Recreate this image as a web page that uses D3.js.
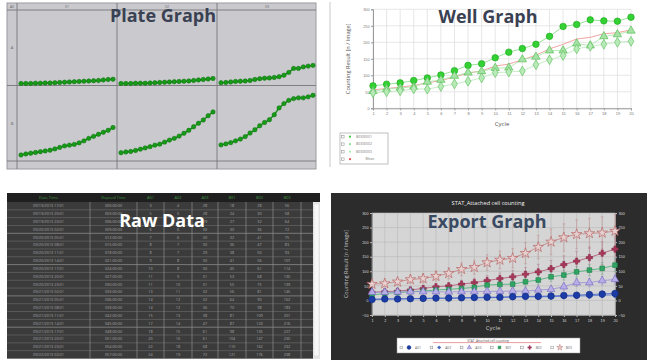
<!DOCTYPE html>
<html>
<head>
<meta charset="utf-8">
<script src="https://cdn.jsdelivr.net/npm/d3@7"></script>
<style>
  body { margin: 0; background: #fff; }
  svg { display: block; font-family: "Open Sans", "DejaVu Sans", sans-serif; }
</style>
</head>
<body>
<div id="chart"></div>
<script>
// Four-panel overview: plate graph, well graph, raw data table, export graph

const cycles = [1, 2, 3, 4, 5, 6, 7, 8, 9, 10, 11, 12, 13, 14, 15, 16, 17, 18, 19, 20]

// --- plate graph (one mini-chart per well) ---
const plateRows = ["A", "B"]
const plateCols = ["01", "02", "03"]
const plateA1 = [8, 8, 8, 9, 9, 10, 10, 11, 12, 13, 14, 15, 16, 17, 18, 19, 20, 22, 24, 25]
const plateA2 = [8, 8, 8, 9, 9, 9, 10, 11, 12, 13, 14, 15, 16, 17, 18, 20, 22, 24, 26, 28]
const plateA3 = [11, 12, 14, 16, 17, 18, 20, 24, 27, 29, 30, 32, 35, 41, 52, 68, 68, 74, 77, 80]
const plateB1 = [24, 28, 31, 34, 37, 40, 43, 48, 54, 60, 63, 66, 72, 80, 90, 98, 106, 114, 122, 133]
const plateB2 = [33, 36, 38, 42, 47, 52, 57, 63, 67, 75, 83, 90, 99, 110, 122, 136, 150, 163, 180, 195]
const plateB3 = [64, 68, 73, 80, 87, 97, 111, 124, 140, 153, 164, 184, 211, 228, 241, 248, 251, 251, 255, 261]

// --- well graph ---
const wellNames = ["B0300001", "B0300002", "B0300003", "Mean"]
const well1 = [68, 73, 77, 84, 92, 101, 114, 130, 135, 153, 170, 181, 194, 218, 248, 254, 268, 265, 264, 276]
const well2 = [52, 58, 62, 65, 80, 86, 98, 108, 112, 122, 123, 148, 156, 175, 175, 196, 190, 218, 224, 235]
const well3 = [47, 50, 53, 59, 58, 66, 74, 82, 92, 108, 110, 113, 132, 147, 160, 180, 188, 194, 200, 203]
const wellMean = [56, 60, 64, 69, 77, 84, 95, 107, 113, 128, 134, 147, 161, 180, 194, 210, 215, 226, 229, 238]
const wellTicksY = [0, 50, 100, 150, 200, 250, 300]

// --- export graph (mean +/- sd per well) ---
const wells = ["A01", "A02", "A03", "B01", "B02", "B03"]
const expA01 = [3, 5, 5, 6, 7, 8, 8, 9, 10, 11, 11, 13, 14, 14, 15, 17, 18, 20, 22, 24]
const expA02 = [4, 5, 5, 6, 6, 7, 7, 8, 8, 9, 10, 11, 12, 12, 13, 14, 15, 16, 18, 19]
const expA03 = [28, 28, 29, 30, 30, 30, 29, 30, 30, 31, 31, 32, 32, 36, 38, 47, 61, 61, 68, 72]
const expB01 = [18, 24, 27, 30, 32, 36, 38, 41, 45, 53, 55, 56, 64, 70, 81, 87, 98, 104, 110, 121]
const expB02 = [28, 30, 32, 36, 41, 47, 50, 56, 61, 68, 75, 81, 90, 98, 109, 123, 135, 147, 162, 176]
const expB03 = [56, 58, 64, 72, 75, 83, 93, 107, 114, 130, 139, 145, 162, 183, 201, 216, 227, 230, 232, 238]
const errA01 = [3, 3, 3, 4, 4, 4, 5, 5, 5, 6, 6, 6, 7, 7, 7, 8, 8, 8, 9, 9]
const errA02 = [3, 3, 3, 3, 4, 4, 4, 4, 5, 5, 5, 6, 6, 6, 7, 7, 7, 8, 8, 8]
const errA03 = [6, 6, 6, 7, 7, 7, 7, 8, 8, 8, 9, 9, 10, 10, 11, 12, 13, 14, 15, 16]
const errB01 = [5, 5, 6, 6, 7, 7, 8, 9, 10, 11, 12, 13, 14, 15, 16, 17, 18, 19, 20, 22]
const errB02 = [6, 6, 7, 8, 9, 10, 11, 13, 15, 17, 19, 21, 23, 26, 28, 30, 33, 36, 39, 42]
const errB03 = [9, 10, 11, 13, 15, 17, 19, 22, 24, 27, 30, 33, 36, 40, 44, 47, 50, 52, 55, 57]
const expTicksY = [-50, 0, 50, 100, 150, 200, 250, 300]

// --- raw data table ---
const tableHeaders = ["Date Time", "Elapsed Time", "A01", "A02", "A03", "B01", "B02", "B03"]
const dateTimes = [
  "09/19/2013 17:01", "09/19/2013 20:01", "09/19/2013 23:01", "09/20/2013 02:01",
  "09/20/2013 05:01", "09/20/2013 08:01", "09/20/2013 11:01", "09/20/2013 14:01",
  "09/20/2013 17:01", "09/20/2013 20:01", "09/20/2013 23:01", "09/21/2013 02:01",
  "09/21/2013 05:01", "09/21/2013 08:01", "09/21/2013 11:01", "09/21/2013 14:01",
  "09/21/2013 17:01", "09/21/2013 20:01", "09/21/2013 23:01", "09/22/2013 02:01"]
const elapsed = [
  "000:00:00", "003:00:00", "006:00:00", "009:00:00", "012:00:00", "015:00:00",
  "018:00:00", "021:00:00", "024:00:00", "027:00:00", "030:00:00", "033:00:00",
  "036:00:00", "039:00:00", "042:00:00", "045:00:00", "048:00:00", "051:00:00",
  "054:00:00", "057:00:00"]

const W = 650, H = 362
const svg = d3.select("#chart").append("svg")
  .attr("width", W).attr("height", H)
  .attr("viewBox", `0 0 ${W} ${H}`)

// ================= Plate graph =================
const plateSeries = {
  A01: plateA1, A02: plateA2, A03: plateA3,
  B01: plateB1, B02: plateB2, B03: plateB3,
}
const pg = svg.append("g")
pg.append("rect").attr("x", 7).attr("y", 3).attr("width", 309).attr("height", 166)
  .attr("fill", "#c9c9ce").attr("stroke", "#9a9aa0")

const pcol = d3.scaleBand().domain(plateCols).range([17, 317])
const prow = d3.scaleBand().domain(plateRows).range([10, 161])

// grid lines of the plate
pg.selectAll("line.vcol").data([17, 117, 217]).join("line")
  .attr("x1", d => d).attr("x2", d => d).attr("y1", 3).attr("y2", 169)
  .attr("stroke", "#77777c").attr("stroke-width", 0.9)
pg.selectAll("line.hrow").data([10, 85.5, 161]).join("line")
  .attr("x1", 7).attr("x2", 316).attr("y1", d => d).attr("y2", d => d)
  .attr("stroke", "#77777c").attr("stroke-width", 0.9)

pg.selectAll("text.colh").data(plateCols).join("text")
  .attr("x", d => pcol(d) + pcol.bandwidth() / 2).attr("y", 8)
  .attr("text-anchor", "middle").attr("font-size", 3.5).attr("fill", "#666")
  .text(d => d)
pg.append("text").attr("x", 12).attr("y", 8).attr("text-anchor", "middle")
  .attr("font-size", 3.5).attr("fill", "#666").text("All")
pg.selectAll("text.rowh").data(plateRows).join("text")
  .attr("x", 12).attr("y", d => prow(d) + prow.bandwidth() / 2 + 1.5)
  .attr("text-anchor", "middle").attr("font-size", 4).attr("fill", "#666")
  .text(d => d)

plateRows.forEach(r => plateCols.forEach(c => {
  const vals = plateSeries[r + c]
  const x = d3.scalePoint().domain(cycles).range([pcol(c) + 4, pcol(c) + pcol.bandwidth() - 4])
  const y = d3.scaleLinear().domain([0, 300]).range([prow(r) + prow.bandwidth(), prow(r)])
  const pts = cycles.map((cy, i) => [x(cy), y(vals[i])])
  pg.append("path").attr("d", d3.line()(pts))
    .attr("fill", "none").attr("stroke", "#138f13").attr("stroke-width", 1.4)
  pg.selectAll(null).data(pts).join("circle")
    .attr("cx", d => d[0]).attr("cy", d => d[1]).attr("r", 2.2)
    .attr("fill", "#179a17").attr("stroke", "#0b6e0b").attr("stroke-width", 0.5)
}))

// ================= Well graph =================
const wg = svg.append("g")
wg.append("line").attr("x1", 330).attr("x2", 330).attr("y1", 2).attr("y2", 167)
  .attr("stroke", "#c8c8c8").attr("stroke-width", 1)

const xW = d3.scaleLinear().domain([1, 20]).range([373, 631])
const yW = d3.scaleLinear().domain([0, 300]).range([108.3, 9.3])

wg.selectAll("line.gx").data(cycles).join("line")
  .attr("x1", d => xW(d)).attr("x2", d => xW(d)).attr("y1", yW(300)).attr("y2", yW(0))
  .attr("stroke", "#dcdcdc").attr("stroke-width", 0.7)
wg.selectAll("line.gy").data(wellTicksY).join("line")
  .attr("x1", xW(1)).attr("x2", xW(20)).attr("y1", d => yW(d)).attr("y2", d => yW(d))
  .attr("stroke", "#dcdcdc").attr("stroke-width", 0.7)

wg.append("g").attr("transform", `translate(${xW(1)},0)`)
  .call(d3.axisLeft(yW).tickValues(wellTicksY).tickSize(2).tickPadding(1.5))
  .call(a => a.selectAll("text").attr("font-size", 3.8).attr("fill", "#777"))
  .call(a => a.selectAll("line,path").attr("stroke", "#999"))
wg.append("g").attr("transform", `translate(0,${yW(0)})`)
  .call(d3.axisBottom(xW).tickValues(cycles).tickSize(2).tickPadding(1.5).tickFormat(d3.format("d")))
  .call(a => a.selectAll("text").attr("font-size", 4).attr("fill", "#777"))
  .call(a => a.selectAll("line,path").attr("stroke", "#999"))

wg.append("text").attr("transform", `translate(350,${yW(150)}) rotate(-90)`)
  .attr("text-anchor", "middle").attr("font-size", 5.6).attr("fill", "#555")
  .text("Counting Result [n / Image]")
wg.append("text").attr("x", 502).attr("y", 126).attr("text-anchor", "middle")
  .attr("font-size", 6).attr("fill", "#555").text("Cycle")

const lineW = d3.line().x((d, i) => xW(cycles[i])).y(d => yW(d))
wg.append("path").attr("d", lineW(wellMean)).attr("fill", "none")
  .attr("stroke", "#f19a9a").attr("stroke-width", 0.9)
const wellStyles = [
  { vals: well1, sym: d3.symbolCircle, size: 34, fill: "#33d133", stroke: "#1ca51c", line: "#7fdc7f" },
  { vals: well2, sym: d3.symbolTriangle, size: 30, fill: "#a6e2a6", stroke: "#45b845", line: "#a8e4a8" },
  { vals: well3, sym: d3.symbolDiamond, size: 28, fill: "#b8eab8", stroke: "#55bb55", line: "#b8e8b8" },
]
wellStyles.forEach(s => {
  wg.append("path").attr("d", lineW(s.vals)).attr("fill", "none")
    .attr("stroke", s.line).attr("stroke-width", 0.8)
  wg.selectAll(null).data(s.vals).join("path")
    .attr("transform", (d, i) => `translate(${xW(cycles[i])},${yW(d)})`)
    .attr("d", d3.symbol(s.sym, s.size))
    .attr("fill", s.fill).attr("stroke", s.stroke).attr("stroke-width", 0.6)
})

// legend
const wl = wg.append("g")
wl.append("rect").attr("x", 340).attr("y", 133).attr("width", 48).attr("height", 31)
  .attr("fill", "#fff").attr("stroke", "#b0b0b0").attr("stroke-width", 0.8)
const wlColors = ["#33cc33", "#88e088", "#aee8ae", "#e05050"]
wellNames.forEach((n, i) => {
  const yy = 136.7 + i * 7.5
  wl.append("rect").attr("x", 341.5).attr("y", yy - 1.3).attr("width", 2.6).attr("height", 2.6)
    .attr("fill", "#fff").attr("stroke", "#888").attr("stroke-width", 0.5)
  wl.append("circle").attr("cx", 350).attr("cy", yy).attr("r", 1.1).attr("fill", wlColors[i])
  wl.append("text").attr("x", i === 3 ? 370 : 364).attr("y", yy + 1.2)
    .attr("text-anchor", "middle").attr("font-size", 3.4).attr("fill", "#777").text(n)
})

// ================= Raw data table =================
const tg = svg.append("g")
const colEdges = [7, 90, 137, 164, 192, 218, 246, 273, 301, 313]
const tableCols = [expA01, expA02, expA03, expB01, expB02, expB03]
const rowY = d3.scaleBand().domain(cycles).range([202, 358.5])
tg.append("rect").attr("x", 7).attr("y", 193).attr("width", 313).attr("height", 166)
  .attr("fill", "#3b3b3b")
tg.append("rect").attr("x", 7).attr("y", 193).attr("width", 313).attr("height", 9)
  .attr("fill", "#1f1f1f")
tg.selectAll("line.rl").data(cycles).join("line")
  .attr("x1", 7).attr("x2", 313)
  .attr("y1", d => rowY(d) + rowY.bandwidth()).attr("y2", d => rowY(d) + rowY.bandwidth())
  .attr("stroke", (d, i) => i % 4 === 3 ? "#8a8a8a" : "#626262").attr("stroke-width", 0.8)
tg.selectAll("line.cl").data(colEdges.slice(1, 9)).join("line")
  .attr("x1", d => d).attr("x2", d => d).attr("y1", 202).attr("y2", 359)
  .attr("stroke", "#8c8c8c").attr("stroke-width", 0.7)
tableHeaders.forEach((h, j) => {
  tg.append("text").attr("x", (colEdges[j] + colEdges[j + 1]) / 2).attr("y", 199.3)
    .attr("text-anchor", "middle").attr("font-size", 4).attr("fill", "#3d9a3d").text(h)
})
cycles.forEach((c, i) => {
  const yy = rowY(c) + rowY.bandwidth() / 2 + 1.4
  const cells = [dateTimes[i], elapsed[i], ...tableCols.map(v => String(v[i]))]
  cells.forEach((t, j) => {
    tg.append("text").attr("x", (colEdges[j] + colEdges[j + 1]) / 2).attr("y", yy)
      .attr("text-anchor", "middle").attr("font-size", 3.8).attr("fill", "#a8a8a8").text(t)
  })
})
// scroll bar
tg.append("rect").attr("x", 313).attr("y", 202).attr("width", 7).attr("height", 157)
  .attr("fill", "#e6e6e6")
tg.append("rect").attr("x", 314).attr("y", 204).attr("width", 5).attr("height", 152)
  .attr("fill", "#f7f7f7").attr("stroke", "#d0d0d0").attr("stroke-width", 0.4)

// ================= Export graph =================
const eg = svg.append("g")
eg.append("rect").attr("x", 331).attr("y", 193).attr("width", 316).attr("height", 167)
  .attr("fill", "#2c2c2c")
const xE = d3.scaleLinear().domain([1, 20]).range([372, 615])
const yE = d3.scaleLinear().domain([-50, 300]).range([315, 213])
eg.append("rect").attr("x", xE(1)).attr("y", yE(300)).attr("width", xE(20) - xE(1))
  .attr("height", yE(-50) - yE(300)).attr("fill", "#d5d5d5")
eg.selectAll("line.gx").data(cycles).join("line")
  .attr("x1", d => xE(d)).attr("x2", d => xE(d)).attr("y1", yE(300)).attr("y2", yE(-50))
  .attr("stroke", "#b9b9b9").attr("stroke-width", 0.6)
eg.selectAll("line.gy").data(expTicksY).join("line")
  .attr("x1", xE(1)).attr("x2", xE(20)).attr("y1", d => yE(d)).attr("y2", d => yE(d))
  .attr("stroke", "#b9b9b9").attr("stroke-width", 0.6)

const styleAxis = a => {
  a.selectAll("text").attr("font-size", 3.8).attr("fill", "#d8d8d8")
  a.selectAll("line").attr("stroke", "#bbb")
  a.select(".domain").attr("stroke", "#999")
}
eg.append("g").attr("transform", `translate(${xE(1)},0)`)
  .call(d3.axisLeft(yE).tickValues(expTicksY).tickSize(2).tickPadding(1.5)).call(styleAxis)
eg.append("g").attr("transform", `translate(${xE(20)},0)`)
  .call(d3.axisRight(yE).tickValues(expTicksY).tickSize(2).tickPadding(1.5)).call(styleAxis)
eg.append("g").attr("transform", `translate(0,${yE(-50)})`)
  .call(d3.axisBottom(xE).tickValues(cycles).tickSize(2).tickPadding(2).tickFormat(d3.format("d")))
  .call(styleAxis)

eg.append("text").attr("x", 488).attr("y", 205).attr("text-anchor", "middle")
  .attr("font-size", 5.6).attr("fill", "#f2f2f2").text("STAT_Attached cell counting")
eg.append("text").attr("transform", `translate(348,${yE(125)}) rotate(-90)`)
  .attr("text-anchor", "middle").attr("font-size", 5.4).attr("fill", "#c8c8c8")
  .text("Counting Result [n / Image]")
eg.append("text").attr("x", 493).attr("y", 330).attr("text-anchor", "middle")
  .attr("font-size", 6).attr("fill", "#c8c8c8").text("Cycle")

const expStyles = [
  { name: "B03", vals: expB03, err: errB03, sym: d3.symbolStar, size: 34, fill: "#e6cfcf", stroke: "#b45858", line: "#c88080", bar: "#c48a8a" },
  { name: "B02", vals: expB02, err: errB02, sym: d3.symbolCross, size: 22, fill: "#a8385a", stroke: "#8a2848", line: "#b05070", bar: "#b07088" },
  { name: "B01", vals: expB01, err: errB01, sym: d3.symbolSquare, size: 22, fill: "#2fa463", stroke: "#1f7f48", line: "#3eb070", bar: "#6aa888" },
  { name: "A03", vals: expA03, err: errA03, sym: d3.symbolTriangle, size: 26, fill: "#b8aee6", stroke: "#7566c2", line: "#9a8ed8", bar: "#9a90c8" },
  { name: "A02", vals: expA02, err: errA02, sym: d3.symbolCross, size: 14, fill: "#4666c8", stroke: "#3050b0", line: "#5a78d0", bar: "#7a8ac8" },
  { name: "A01", vals: expA01, err: errA01, sym: d3.symbolCircle, size: 34, fill: "#1c3ca6", stroke: "#102a82", line: "#3558c8", bar: "#5a6aa8" },
]
const lineE = d3.line().x((d, i) => xE(cycles[i])).y(d => yE(d))
expStyles.forEach(s => {
  const g = eg.append("g")
  cycles.forEach((c, i) => {
    const cx = xE(c), top = yE(s.vals[i] + s.err[i]), bot = yE(s.vals[i] - s.err[i])
    g.append("line").attr("x1", cx).attr("x2", cx).attr("y1", top).attr("y2", bot)
      .attr("stroke", s.bar).attr("stroke-width", 0.5)
    g.append("line").attr("x1", cx - 1.4).attr("x2", cx + 1.4).attr("y1", top).attr("y2", top)
      .attr("stroke", s.bar).attr("stroke-width", 0.5)
    g.append("line").attr("x1", cx - 1.4).attr("x2", cx + 1.4).attr("y1", bot).attr("y2", bot)
      .attr("stroke", s.bar).attr("stroke-width", 0.5)
  })
})
expStyles.forEach(s => {
  eg.append("path").attr("d", lineE(s.vals)).attr("fill", "none")
    .attr("stroke", s.line).attr("stroke-width", 0.8)
  eg.selectAll(null).data(s.vals).join("path")
    .attr("transform", (d, i) => `translate(${xE(cycles[i])},${yE(d)})`)
    .attr("d", d3.symbol(s.sym, s.size))
    .attr("fill", s.fill).attr("stroke", s.stroke).attr("stroke-width", 0.6)
})

// export legend
const el = eg.append("g")
el.append("rect").attr("x", 397).attr("y", 338).attr("width", 183).attr("height", 15)
  .attr("fill", "#fff").attr("stroke", "#999").attr("stroke-width", 0.5)
el.append("text").attr("x", 488).attr("y", 341.6).attr("text-anchor", "middle")
  .attr("font-size", 3.2).attr("fill", "#555").text("STAT_Attached cell counting")
el.append("line").attr("x1", 433).attr("x2", 541).attr("y1", 342.6).attr("y2", 342.6)
  .attr("stroke", "#e05a5a").attr("stroke-width", 0.6)
const legOrder = ["A01", "A02", "A03", "B01", "B02", "B03"]
const legX = d3.scaleBand().domain(legOrder).range([399, 580])
legOrder.forEach(n => {
  const s = expStyles.find(e => e.name === n)
  const x0 = legX(n), yy = 347.5
  el.append("rect").attr("x", x0 + 1).attr("y", yy - 1.3).attr("width", 2.6).attr("height", 2.6)
    .attr("fill", "#fff").attr("stroke", "#888").attr("stroke-width", 0.5)
  el.append("path").attr("transform", `translate(${x0 + 10},${yy})`)
    .attr("d", d3.symbol(s.sym, s.size * 0.35))
    .attr("fill", s.fill).attr("stroke", s.stroke).attr("stroke-width", 0.4)
  el.append("text").attr("x", x0 + 19).attr("y", yy + 1.2).attr("text-anchor", "middle")
    .attr("font-size", 3.4).attr("fill", "#666").text(n)
})

// ================= Panel captions =================
const captions = [
  { t: "Plate Graph", x: 163, y: 22, c: "#3a4152" },
  { t: "Well Graph", x: 488, y: 23, c: "#3a4152" },
  { t: "Raw Data", x: 162, y: 227, c: "#ffffff" },
  { t: "Export Graph", x: 487, y: 228, c: "#3a4a62" },
]
svg.selectAll("text.caption").data(captions).join("text")
  .attr("class", "caption")
  .attr("x", d => d.x).attr("y", d => d.y).attr("text-anchor", "middle")
  .attr("font-size", 18).attr("font-weight", 700).attr("fill", d => d.c)
  .text(d => d.t)
</script>
</body>
</html>
